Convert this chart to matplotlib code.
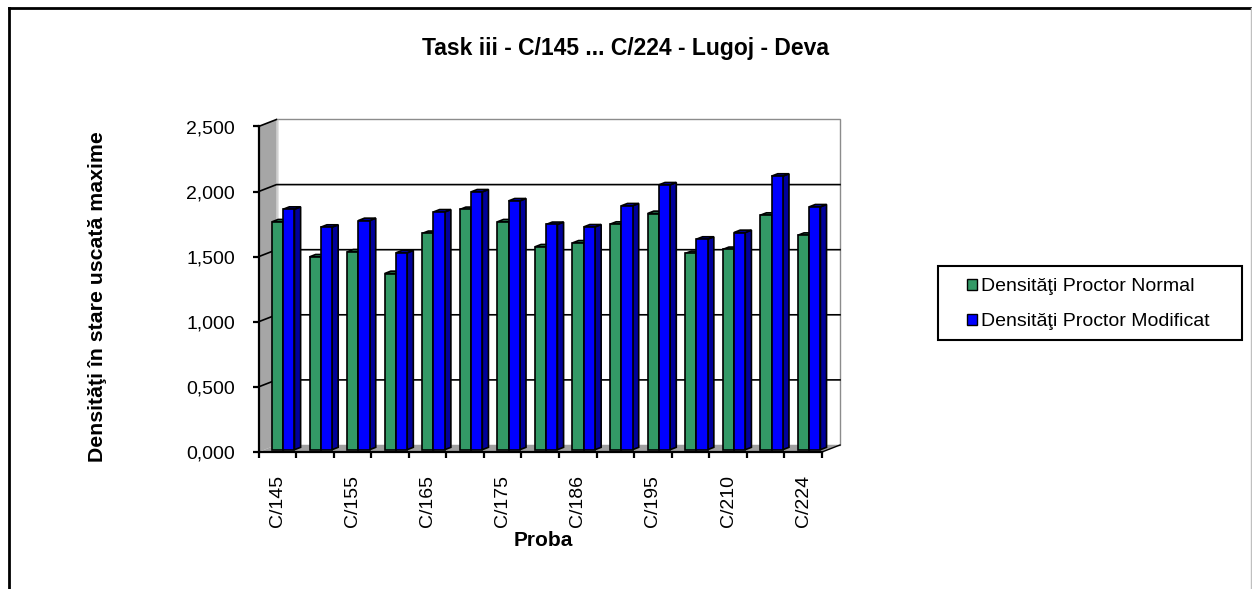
import matplotlib
matplotlib.use("Agg")
import matplotlib.pyplot as plt
from matplotlib.patches import Polygon, Rectangle, Patch
from matplotlib.lines import Line2D

plt.rcParams['font.family'] = ['Liberation Sans', 'DejaVu Sans']

# ---------------- data ----------------
categories = ["C/145", "", "C/155", "", "C/165", "", "C/175", "", "C/186", "",
              "C/195", "", "C/210", "", "C/224"]
proctor_normal = [1.750, 1.481, 1.519, 1.353, 1.661, 1.845, 1.750, 1.558,
                  1.588, 1.732, 1.814, 1.507, 1.538, 1.801, 1.647]
proctor_modificat = [1.847, 1.709, 1.760, 1.512, 1.826, 1.980, 1.911, 1.730,
                     1.711, 1.873, 2.034, 1.617, 1.668, 2.101, 1.865]
series_names = ["Densităţi Proctor Normal", "Densităţi Proctor Modificat"]
y_ticks = [0.0, 0.5, 1.0, 1.5, 2.0, 2.5]
title = "Task iii - C/145 ... C/224 - Lugoj - Deva"
xlabel = "Proba"
ylabel = "Densităţi în stare uscată maxime"

# ---------------- styles ----------------
GREEN = "#339966"
GREEN_SIDE = "#1f6b44"
GREEN_TOP = "#2a8457"
BLUE = "#0000ff"
BLUE_SIDE = "#00009a"
BLUE_TOP = "#0000c8"
WALL = "#a6a6a6"
FLOOR = "#a0a0a0"

W, H = 1252, 589
fig = plt.figure(figsize=(W / 100, H / 100), dpi=100)


def fx(px):
    return px / W


def fy(py):
    return 1 - py / H


ax_left, ax_right, ax_top, ax_bottom = 258.5, 822.0, 126.5, 452.0
ax = fig.add_axes([fx(ax_left), fy(ax_bottom),
                   (ax_right - ax_left) / W, (ax_bottom - ax_top) / H])
n = len(categories)
ymax = y_ticks[-1]
ax.set_xlim(0, n)
ax.set_ylim(0, ymax)
ax.patch.set_visible(False)
for s in ['top', 'right']:
    ax.spines[s].set_visible(False)
for s in ['left', 'bottom']:
    ax.spines[s].set_linewidth(1.6)
    ax.spines[s].set_color('black')

dpx_x = n / (ax_right - ax_left)
dpx_y = ymax / (ax_bottom - ax_top)
DX = 18 * dpx_x
DY = 7 * dpx_y

# walls and floor
ax.add_patch(Polygon([(DX, DY), (n + DX, DY), (n + DX, ymax + DY), (DX, ymax + DY)],
                     closed=True, facecolor='white', edgecolor='#8c8c8c', lw=1.0,
                     zorder=0.2, clip_on=False))
ax.add_patch(Polygon([(0, 0), (DX, DY), (DX, ymax + DY), (0, ymax)], closed=True,
                     facecolor=WALL, edgecolor='none', zorder=0.5, clip_on=False))
ax.plot([DX, DX], [DY, ymax + DY], color='#d0d0d0', lw=1.0, zorder=0.6, clip_on=False)
ax.add_patch(Polygon([(0, 0), (n, 0), (n + DX, DY), (DX, DY)], closed=True,
                     facecolor=FLOOR, edgecolor='none', zorder=0.5, clip_on=False))

# gridlines on left wall and back wall
for v in y_ticks[1:]:
    if v < ymax:
        ax.plot([0, DX, n + DX], [v, v + DY, v + DY], color='black', lw=1.2,
                zorder=1, clip_on=False)
    else:
        ax.plot([0, DX], [v, v + DY], color='black', lw=1.2, zorder=1, clip_on=False)
ax.plot([n, n + DX], [0, DY], color='black', lw=1.0, zorder=1, clip_on=False)

# 3-D style bars
w = 0.30
f0, f1 = 0.33, 0.67
ddx = (f1 - f0) * DX
ddy = (f1 - f0) * DY
z = 3.0


def bar3d(xl, h, c_front, c_side, c_top, zo):
    x0 = xl + f0 * DX
    x1 = x0 + w
    y0 = f0 * DY
    y1 = h + y0
    ax.add_patch(Polygon([(x1, y0), (x1 + ddx, y0 + ddy), (x1 + ddx, y1 + ddy), (x1, y1)],
                         closed=True, facecolor=c_side, edgecolor='black', lw=1.2,
                         zorder=zo, clip_on=False))
    ax.add_patch(Polygon([(x0, y1), (x1, y1), (x1 + ddx, y1 + ddy), (x0 + ddx, y1 + ddy)],
                         closed=True, facecolor=c_top, edgecolor='black', lw=1.2,
                         zorder=zo, clip_on=False))
    ax.add_patch(Rectangle((x0, y0), w, h, facecolor=c_front, edgecolor='black',
                           lw=1.2, zorder=zo + 0.01, clip_on=False))


for i in range(n):
    c = i + 0.5
    bar3d(c - w, proctor_normal[i], GREEN, GREEN_SIDE, GREEN_TOP, z)
    z += 0.1
    bar3d(c, proctor_modificat[i], BLUE, BLUE_SIDE, BLUE_TOP, z)
    z += 0.1

# axes ticks
ax.set_yticks(y_ticks)
ax.set_yticklabels([f"{v:.3f}".replace('.', ',') for v in y_ticks])
ax.tick_params(axis='y', direction='out', length=4.3, width=1.6, pad=12.5,
               labelsize=14, colors='black')
ax.set_xticks([i + 0.5 for i in range(n)])
ax.set_xticklabels(categories, rotation=90, ha='center', va='top')
ax.set_xticks(list(range(n + 1)), minor=True)
ax.tick_params(axis='x', which='major', length=0, pad=16.5, labelsize=14)
ax.tick_params(axis='x', which='minor', direction='out', length=4.3, width=1.6)

# texts
fig.text(fx(625.5), fy(49), title, ha='center', va='center', fontsize=16.5,
         fontweight='bold')
fig.text(fx(98), fy(297), ylabel, ha='center', va='center', rotation=90,
         fontsize=15.3, fontweight='bold')
fig.text(fx(543), fy(540), xlabel, ha='center', va='center', fontsize=15,
         fontweight='bold')

# legend
fig.add_artist(Rectangle((fx(938), fy(340)), (1242 - 938) / W, (340 - 266) / H,
                         transform=fig.transFigure, facecolor='white',
                         edgecolor='black', lw=1.5, zorder=5))
handles = [Patch(facecolor=GREEN, edgecolor='black', lw=1.0),
           Patch(facecolor=BLUE, edgecolor='black', lw=1.0)]
leg = fig.legend(handles=handles, labels=series_names, loc='upper left',
                 bbox_to_anchor=(fx(967), fy(278)), frameon=False, fontsize=14,
                 handlelength=0.5, handleheight=0.5, handletextpad=0.2,
                 labelspacing=0.95, borderpad=0, borderaxespad=0)
leg.set_zorder(6)

# outer chart frame
fig.add_artist(Line2D([fx(8.5), fx(1251)], [fy(8), fy(8)], transform=fig.transFigure,
                      color='black', lw=2.0))
fig.add_artist(Line2D([fx(8.5), fx(8.5)], [fy(8), fy(589)], transform=fig.transFigure,
                      color='black', lw=2.0))
fig.add_artist(Line2D([fx(1251), fx(1251)], [fy(8), fy(589)], transform=fig.transFigure,
                      color='#c0c0c0', lw=1.0))

fig.savefig("out.png", dpi=100)
